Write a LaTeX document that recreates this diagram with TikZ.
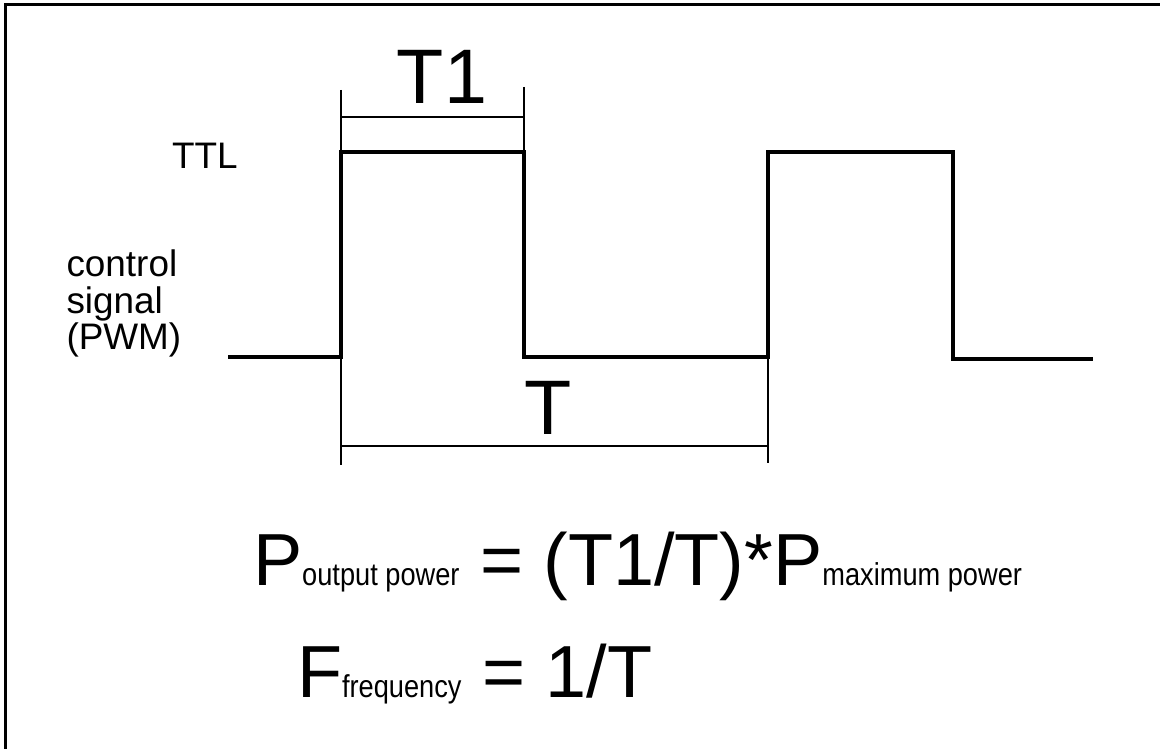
\documentclass[tikz,border=0pt]{standalone}
\usepackage{fontspec}
\setmainfont{Liberation Sans}
\newfontfamily\narrowsans{Liberation Sans}[FakeStretch=0.86]
\usetikzlibrary{positioning}

\newcommand{\eqfont}{\normalfont\fontsize{42pt}{42pt}\selectfont}
\newcommand{\subfont}{\narrowsans\fontsize{18pt}{18pt}\selectfont}
\newcommand{\dimfont}{\fontsize{44pt}{44pt}\selectfont}
\newcommand{\sidefont}{\fontsize{21pt}{20.7pt}\selectfont}

\begin{document}
\begin{tikzpicture}[x=0.2mm,y=-0.2mm,
    wave/.style={line width=2pt,line join=miter},
    dimline/.style={line width=0.9pt},
    txt/.style={inner sep=0pt,outer sep=0pt}]
    \useasboundingbox (0,0) rectangle (1160,749);
    % frame, top and left side only
    \draw[line width=1.3pt] (5.5,749) -- (5.5,4.5) -- (1160,4.5);

    % PWM signal
    \coordinate (lo0) at (228,357);
    \coordinate (up1) at (341,357);
    \coordinate (dn1) at (524,357);
    \coordinate (up2) at (768,357);
    \coordinate (dn2) at (953,359);
    \coordinate (lo3) at (1093,359);
    \draw[wave] (lo0) -- (up1) -- (341,152) -- (524,152) -- (dn1)
        -- (up2) -- (768,152) -- (953,152) -- (dn2) -- (lo3);

    % dimension T1
    \draw[dimline] (341,90) -- (341,152);
    \draw[dimline] (524,87) -- (524,152);
    \draw[dimline] (341,117) -- (524,117);
    \node[txt,anchor=base] (lblTone) at (442,104) {\dimfont T1};

    % dimension T
    \draw[dimline] (up1) -- (341,465);
    \draw[dimline] (up2) -- (768,463);
    \draw[dimline] (341,446) -- (768,446);
    \node[txt,anchor=base] (lblT) at (548.5,435) {\dimfont T};

    % levels
    \node[txt,anchor=base west] (ttl) at (172,169) {\sidefont TTL};
    \node[txt,anchor=north west,align=left,font=\sidefont] (ctrl) at (66.5,250)
        {control\\signal\\(PWM)};

    % formulas
    \node[txt,anchor=base west] (powereq) at (253,586)
        {\eqfont P\subfont output power\eqfont{} = (T1/T)*P\subfont maximum power};
    \node[txt,anchor=base west] (freqeq) at (297,697)
        {\eqfont F\subfont frequency\eqfont{} = 1/T};
\end{tikzpicture}
\end{document}
